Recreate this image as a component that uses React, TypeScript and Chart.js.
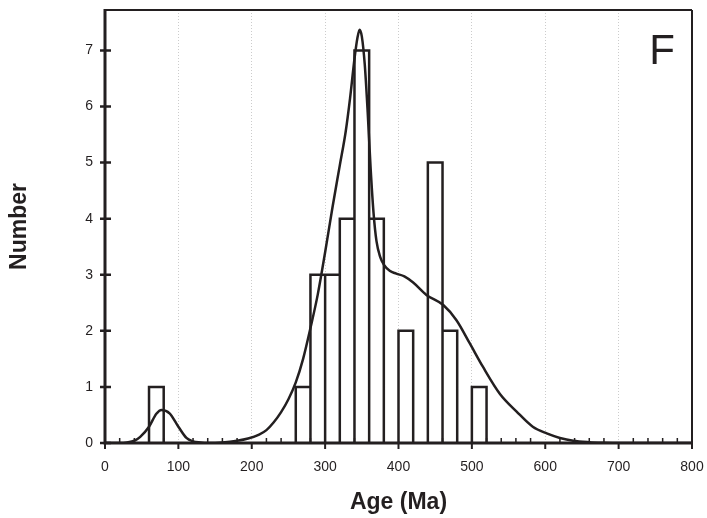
import React, { useEffect, useRef } from "react";
import { Chart, registerables } from "chart.js";

Chart.register(...registerables);

// Histogram bins (Ma) and counts
const binStarts = [60, 260, 280, 300, 320, 340, 360, 400, 440, 460, 500];
const binCounts = [1, 1, 3, 3, 4, 7, 4, 2, 5, 2, 1];
const binWidth = 20;

// Probability density curve
const curveAges = [
  0, 20, 30, 40, 48, 60, 70, 77, 88, 100, 111, 120, 130, 140,
  160, 180, 195, 210, 220, 230, 240, 250, 260, 270, 280, 290, 300, 310, 320, 328, 334, 340, 344, 347,
  350, 354, 358, 362, 366, 370, 375, 380, 388, 397, 408, 420, 438, 461, 479, 497, 515, 538,
  561, 583, 602, 620, 638, 660, 680, 700, 800,
];
const curveValues = [
  0, 0, 0.01, 0.04, 0.11, 0.29, 0.52, 0.59, 0.53, 0.29, 0.09, 0.03, 0.01, 0,
  0.01, 0.04, 0.08, 0.15, 0.23, 0.37, 0.55, 0.78, 1.08, 1.5, 2.05, 2.65, 3.4, 4.2, 4.95, 5.55, 6.15, 6.85, 7.22, 7.37,
  7.25, 6.75, 5.9, 4.9, 4.1, 3.6, 3.32, 3.18, 3.07, 3.02, 2.97, 2.86, 2.64, 2.46, 2.19, 1.78, 1.36, 0.88,
  0.56, 0.29, 0.17, 0.09, 0.04, 0.015, 0.005, 0, 0,
];

const xMin = 0;
const xMax = 800;
const xMajorStep = 100;
const xMinorStep = 20;
const yMin = 0;
const yMax = 7.72;
const yStep = 1;

const panelLabel = "F";
const xTitle = "Age (Ma)";
const yTitle = "Number";

const INK = "#231f20";
const FONT = "'Liberation Sans', Arial, Helvetica, sans-serif";

const noPad = (s: any) => {
  s.paddingLeft = 0;
  s.paddingRight = 0;
  s.paddingTop = 0;
  s.paddingBottom = 0;
};

export default function App() {
  const canvasRef = useRef<HTMLCanvasElement | null>(null);

  useEffect(() => {
    const canvas = canvasRef.current;
    if (!canvas) return;

    const histPoints: { x: number; y: number | null }[] = [];
    binStarts.forEach((s, i) => {
      const e = s + binWidth;
      const c = binCounts[i];
      histPoints.push({ x: s, y: 0 }, { x: s, y: c }, { x: e, y: c }, { x: e, y: 0 }, { x: e, y: null });
    });
    const curvePoints = curveAges.map((a, i) => ({ x: a, y: curveValues[i] }));

    const framePlugin = {
      id: "frame",
      afterDatasetsDraw(chart: any) {
        const { ctx, chartArea, scales } = chart;
        const { left, right, top, bottom } = chartArea;
        ctx.save();
        ctx.strokeStyle = INK;
        ctx.lineCap = "butt";
        ctx.lineWidth = 2;
        ctx.beginPath();
        ctx.moveTo(left, top);
        ctx.lineTo(right, top);
        ctx.moveTo(right, top);
        ctx.lineTo(right, bottom);
        ctx.stroke();
        ctx.lineWidth = 3;
        ctx.beginPath();
        ctx.moveTo(left, top - 1);
        ctx.lineTo(left, bottom + 1.5);
        ctx.moveTo(left - 1.5, bottom);
        ctx.lineTo(right + 1, bottom);
        ctx.stroke();
        ctx.lineWidth = 2.5;
        ctx.beginPath();
        for (let v = yMin; v <= 7; v += yStep) {
          const y = scales.y.getPixelForValue(v);
          ctx.moveTo(left - 5, y);
          ctx.lineTo(left + 6, y);
        }
        ctx.stroke();
        ctx.lineWidth = 2;
        ctx.beginPath();
        for (let v = xMin; v <= xMax; v += xMajorStep) {
          const x = scales.x.getPixelForValue(v);
          ctx.moveTo(x, bottom);
          ctx.lineTo(x, bottom + 6);
        }
        ctx.stroke();
        ctx.lineWidth = 1.5;
        ctx.beginPath();
        for (let v = xMin + xMinorStep; v < xMax; v += xMinorStep) {
          if (v % xMajorStep === 0) continue;
          const x = scales.x.getPixelForValue(v);
          ctx.moveTo(x, bottom);
          ctx.lineTo(x, bottom - 5);
        }
        ctx.stroke();
        ctx.fillStyle = INK;
        ctx.font = `42px ${FONT}`;
        ctx.textAlign = "center";
        ctx.textBaseline = "alphabetic";
        ctx.fillText(panelLabel, right - 30, top + 54);
        ctx.restore();
      },
    };

    const chart = new Chart(canvas, {
      type: "line",
      data: {
        datasets: [
          {
            label: "histogram",
            data: histPoints as any,
            borderColor: INK,
            borderWidth: 2.5,
            pointRadius: 0,
            tension: 0,
            fill: false,
            spanGaps: false,
            borderJoinStyle: "miter",
          },
          {
            label: "density",
            data: curvePoints as any,
            borderColor: INK,
            borderWidth: 2.5,
            pointRadius: 0,
            fill: false,
            cubicInterpolationMode: "monotone",
          },
        ],
      },
      options: {
        animation: false,
        responsive: false,
        devicePixelRatio: 1,
        layout: { padding: { top: 10, right: 15, left: 0, bottom: 0 } },
        plugins: {
          legend: { display: false },
          tooltip: { enabled: false },
        },
        scales: {
          x: {
            type: "linear",
            min: xMin,
            max: xMax,
            afterFit: (s: any) => {
              s.height = 75;
              noPad(s);
            },
            ticks: {
              stepSize: xMajorStep,
              color: INK,
              font: { family: FONT, size: 14 },
              padding: 16,
              maxRotation: 0,
            },
            grid: {
              display: true,
              color: "#cccccc",
              lineWidth: 1,
              drawTicks: false,
            },
            border: { display: false, dash: [1, 2] },
            title: {
              display: true,
              text: xTitle,
              color: INK,
              font: { family: FONT, size: 23, weight: "bold" },
              padding: { top: 0, bottom: 2 },
            },
          },
          y: {
            type: "linear",
            min: yMin,
            max: yMax,
            afterFit: (s: any) => {
              s.width = 105;
              noPad(s);
            },
            afterBuildTicks: (s: any) => {
              s.ticks = s.ticks.filter((t: any) => Number.isInteger(t.value));
            },
            ticks: {
              stepSize: yStep,
              color: INK,
              font: { family: FONT, size: 14 },
              padding: 12,
            },
            grid: { display: false, drawTicks: false },
            border: { display: false },
            title: {
              display: true,
              text: yTitle,
              color: INK,
              font: { family: FONT, size: 23, weight: "bold" },
              padding: { top: 6, bottom: 0 },
            },
          },
        },
      },
      plugins: [framePlugin],
    });

    return () => chart.destroy();
  }, []);

  return (
    <div style={{ position: "fixed", left: 0, top: 0, width: 707, height: 518, background: "#fff" }}>
      <canvas ref={canvasRef} width={707} height={518} />
    </div>
  );
}
